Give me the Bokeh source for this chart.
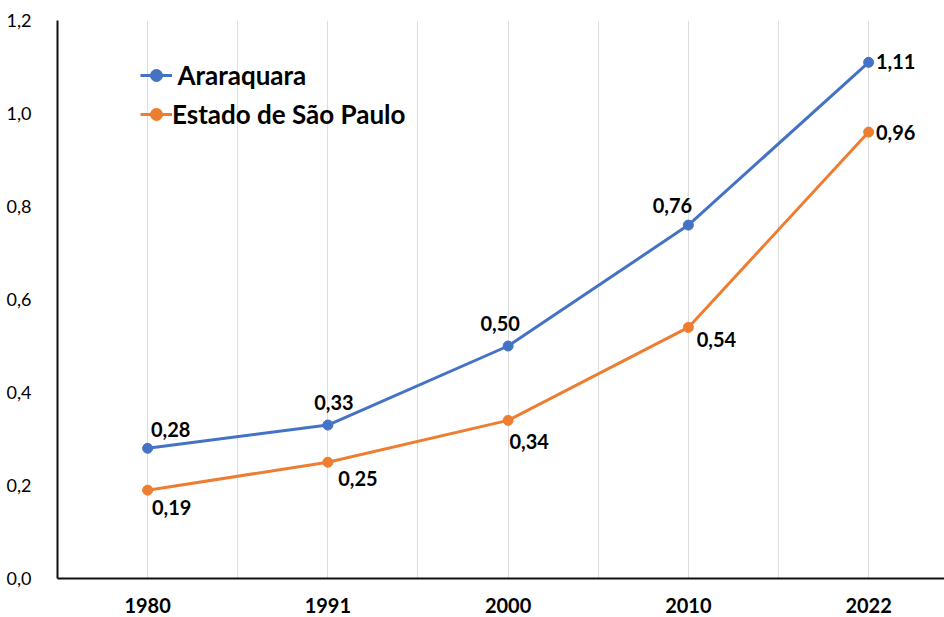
from bokeh.plotting import figure
from bokeh.models import FixedTicker, ColumnDataSource, Legend, LegendItem
from bokeh.core.properties import value
from bokeh.embed import file_html
from bokeh.resources import INLINE

years = ["1980", "1991", "2000", "2010", "2022"]
araraquara = [0.28, 0.33, 0.50, 0.76, 1.11]
sao_paulo = [0.19, 0.25, 0.34, 0.54, 0.96]
y_ticks = [0.0, 0.2, 0.4, 0.6, 0.8, 1.0, 1.2]
y_tick_labels = ["0,0", "0,2", "0,4", "0,6", "0,8", "1,0", "1,2"]

BLUE = "#4472C4"
ORANGE = "#ED7D31"
FONT = "Lato"

xs = list(range(len(years)))

p = figure(width=944, height=617, output_backend="svg", toolbar_location=None,
           x_range=(-0.5, 4.421), y_range=(0, 1.2),
           min_border_left=57, min_border_top=20, min_border_right=0, min_border_bottom=39)
p.outline_line_color = None
p.background_fill_color = "white"
p.border_fill_color = "white"

# axes
p.xaxis.ticker = FixedTicker(ticks=xs)
p.xaxis.major_label_overrides = {i: y for i, y in enumerate(years)}
p.yaxis.ticker = FixedTicker(ticks=y_ticks)
p.yaxis.major_label_overrides = {t: l for t, l in zip(y_ticks, y_tick_labels)}
for ax in (p.xaxis[0], p.yaxis[0]):
    ax.axis_line_color = "#111111"
    ax.axis_line_width = 2
    ax.major_tick_line_color = None
    ax.minor_tick_line_color = None
    ax.major_label_text_font = FONT
    ax.major_label_text_color = "#000000"
p.xaxis.major_label_text_font_size = "20px"
p.xaxis.major_label_text_font_style = "bold"
p.xaxis.major_label_standoff = 13
p.yaxis.major_label_text_font_size = "18px"
p.yaxis.major_label_standoff = 20

p.ygrid.grid_line_color = None
p.xgrid.ticker = FixedTicker(ticks=[i * 0.5 for i in range(0, 10)])
p.xgrid.grid_line_color = "#dedede"
p.xgrid.grid_line_width = 1

src_a = ColumnDataSource(dict(x=xs, y=araraquara))
src_s = ColumnDataSource(dict(x=xs, y=sao_paulo))

la = p.line("x", "y", source=src_a, line_color=BLUE, line_width=3)
ca = p.scatter("x", "y", source=src_a, size=10, fill_color=BLUE, line_color=BLUE)
ls = p.line("x", "y", source=src_s, line_color=ORANGE, line_width=3)
cs = p.scatter("x", "y", source=src_s, size=10, fill_color=ORANGE, line_color=ORANGE)

# data labels
a_dx = [23, 6, -8, -16, 27]
a_dy = [-19, -23, -23, -20, -1]
s_dx = [24, 30, 21, 28, 27]
s_dy = [17, 16, 21, 12, 0]

def fmt(v):
    return f"{v:.2f}".replace(".", ",")

lab_a = ColumnDataSource(dict(x=xs, y=araraquara, t=[fmt(v) for v in araraquara], dx=a_dx, dy=a_dy))
lab_s = ColumnDataSource(dict(x=xs, y=sao_paulo, t=[fmt(v) for v in sao_paulo], dx=s_dx, dy=s_dy))
for src in (lab_a, lab_s):
    p.text("x", "y", text="t", source=src, x_offset="dx", y_offset="dy",
           text_font=value(FONT), text_font_style="bold", text_font_size="20px",
           text_align="center", text_baseline="middle", text_color="#000000")

legend = Legend(items=[
    LegendItem(label=" Araraquara", renderers=[la, ca]),
    LegendItem(label="Estado de São Paulo", renderers=[ls, cs]),
], location=(83, 448))
legend.label_text_font = FONT
legend.label_text_font_style = "bold"
legend.label_text_font_size = "26px"
legend.label_text_color = "#000000"
legend.background_fill_alpha = 0
legend.border_line_color = None
legend.padding = 0
legend.margin = 0
legend.spacing = 7
legend.glyph_width = 32
legend.glyph_height = 30
legend.label_height = 30
legend.label_standoff = 0
p.add_layout(legend, "center")

open("out.html", "w").write(file_html(p, INLINE))
